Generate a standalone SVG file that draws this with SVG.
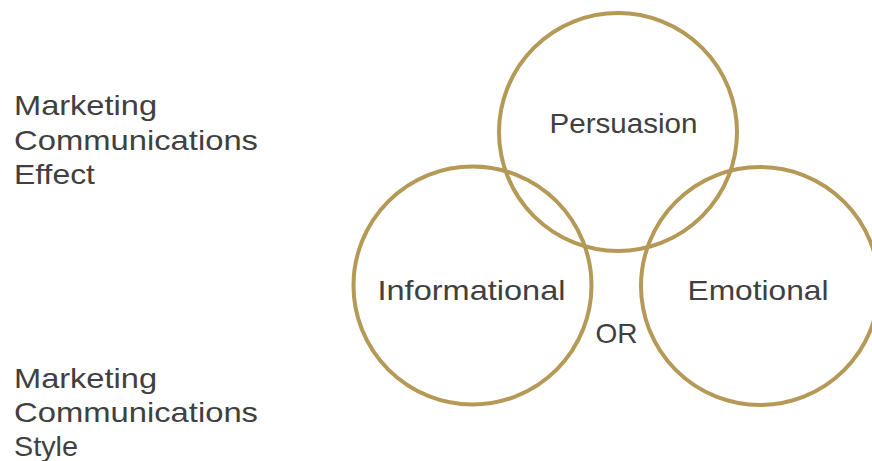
<svg xmlns="http://www.w3.org/2000/svg" width="872" height="461" viewBox="0 0 872 461">
<style>
.c{fill:none;stroke:#B59A57;stroke-width:4}
.t{font-family:"Liberation Sans",Arial,sans-serif;font-size:28px;fill:#404040}
.m{text-anchor:middle}
</style>
<rect width="872" height="461" fill="#FFFFFF"/>
<g id="effect-label">
<text class="t" x="14" y="115" textLength="143" lengthAdjust="spacingAndGlyphs">Marketing</text>
<text class="t" x="14" y="150" textLength="244" lengthAdjust="spacingAndGlyphs">Communications</text>
<text class="t" x="14" y="184" textLength="81" lengthAdjust="spacingAndGlyphs">Effect</text>
</g>
<g id="style-label">
<text class="t" x="14" y="388" textLength="143" lengthAdjust="spacingAndGlyphs">Marketing</text>
<text class="t" x="14" y="422" textLength="244" lengthAdjust="spacingAndGlyphs">Communications</text>
<text class="t" x="14" y="456" textLength="64" lengthAdjust="spacingAndGlyphs">Style</text>
</g>
<g id="persuasion">
<circle class="c" cx="618" cy="132" r="119"/>
<text class="t m" x="623.5" y="133" textLength="148" lengthAdjust="spacingAndGlyphs">Persuasion</text>
</g>
<g id="informational">
<circle class="c" cx="472.5" cy="285.5" r="119"/>
<text class="t m" x="471.5" y="300" textLength="188" lengthAdjust="spacingAndGlyphs">Informational</text>
</g>
<g id="emotional">
<circle class="c" cx="760" cy="286" r="119"/>
<text class="t m" x="758" y="300" textLength="141" lengthAdjust="spacingAndGlyphs">Emotional</text>
</g>
<g id="or-label">
<text class="t m" x="616.5" y="343" textLength="42" lengthAdjust="spacingAndGlyphs">OR</text>
</g>
<g id="connectors"></g>
</svg>
